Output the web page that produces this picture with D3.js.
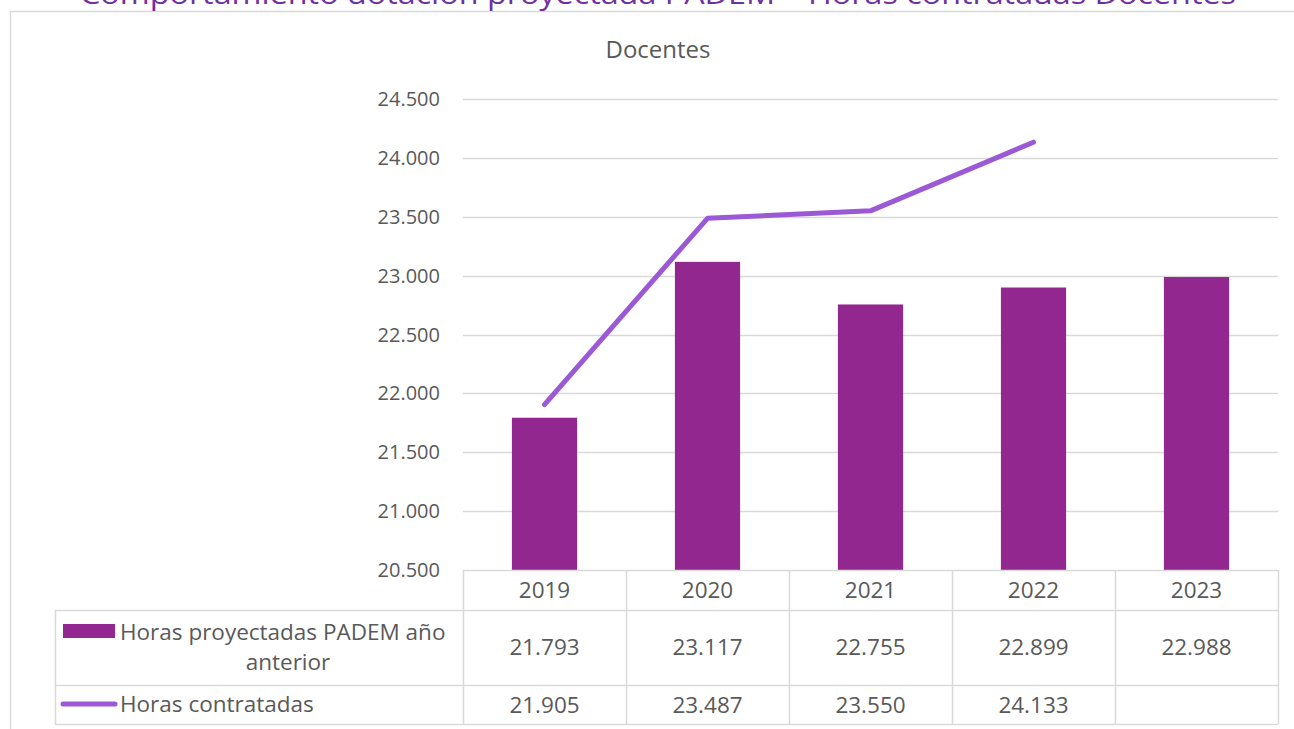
<!DOCTYPE html>
<html>
<head>
<meta charset="utf-8">
<script src="https://cdn.jsdelivr.net/npm/d3@7"></script>
<style>
  body { margin: 0; background: #fff; }
  svg { display: block; font-family: "Open Sans", sans-serif; }
</style>
</head>
<body>
<div id="chart"></div>
<script>
const years = ["2019", "2020", "2021", "2022", "2023"];
const horasProyectadas = [21793, 23117, 22755, 22899, 22988];
const horasContratadas = [21905, 23487, 23550, 24133, null];
const yTicks = [20500, 21000, 21500, 22000, 22500, 23000, 23500, 24000, 24500];
const seriesNames = ["Horas proyectadas PADEM año", "anterior", "Horas contratadas"];

const width = 1294, height = 729;
const barColor = "#92278f", lineColor = "#9b59d6", gridColor = "#d9d9d9", textColor = "#595959";
const tableFont = 22.5;

const svg = d3.select("#chart").append("svg")
  .attr("width", width)
  .attr("height", height);

// outer chart border
svg.append("path")
  .attr("d", "M10.5,729 V11.5 H1294")
  .attr("fill", "none")
  .attr("stroke", gridColor)
  .attr("stroke-width", 1.5);

// title (cut at the top, as in the original)
svg.append("text")
  .attr("x", 658)
  .attr("y", 4)
  .attr("text-anchor", "middle")
  .attr("font-size", 28)
  .attr("fill", "#7030a0")
  .attr("textLength", 1156)
  .attr("lengthAdjust", "spacingAndGlyphs")
  .text("Comportamiento dotación proyectada PADEM – Horas contratadas Docentes");

svg.append("text")
  .attr("x", 658)
  .attr("y", 50)
  .attr("dy", "0.35em")
  .attr("text-anchor", "middle")
  .attr("font-size", 24)
  .attr("fill", textColor)
  .text("Docentes");

const x = d3.scaleBand().domain(years).range([463, 1278]);
const y = d3.scaleLinear().domain([20500, 24500]).range([570, 99]);

// gridlines
svg.append("g")
  .selectAll("line")
  .data(yTicks.slice(1))
  .enter()
  .append("line")
  .attr("x1", 463)
  .attr("x2", 1278)
  .attr("y1", d => Math.round(y(d)) + 0.5)
  .attr("y2", d => Math.round(y(d)) + 0.5)
  .attr("stroke", gridColor)
  .attr("stroke-width", 1.5);

const fmtTick = d => {
  const s = String(d);
  return s.slice(0, s.length - 3) + "." + s.slice(-3);
};

// y axis labels
svg.append("g")
  .selectAll("text")
  .data(yTicks)
  .enter()
  .append("text")
  .attr("x", 440)
  .attr("y", d => y(d))
  .attr("dy", "0.35em")
  .attr("text-anchor", "end")
  .attr("font-size", 20)
  .attr("fill", textColor)
  .text(fmtTick);

// bars
const barW = x.bandwidth() * 0.4;
svg.append("g")
  .selectAll("rect")
  .data(years)
  .enter()
  .append("rect")
  .attr("x", d => x(d) + (x.bandwidth() - barW) / 2)
  .attr("width", barW)
  .attr("y", (d, i) => y(horasProyectadas[i]))
  .attr("height", (d, i) => y(20500) - y(horasProyectadas[i]))
  .attr("fill", barColor);

// line
const line = d3.line()
  .defined(d => d[1] != null)
  .x(d => x(d[0]) + x.bandwidth() / 2)
  .y(d => y(d[1]));

svg.append("path")
  .datum(years.map((d, i) => [d, horasContratadas[i]]))
  .attr("d", line)
  .attr("fill", "none")
  .attr("stroke", lineColor)
  .attr("stroke-width", 5)
  .attr("stroke-linecap", "round")
  .attr("stroke-linejoin", "round");

// data table grid
const table = svg.append("g")
  .attr("stroke", gridColor)
  .attr("stroke-width", 1.5);

table.append("line").attr("x1", 463).attr("x2", 1278).attr("y1", 570.5).attr("y2", 570.5);
[610, 685, 724].forEach(v => {
  table.append("line").attr("x1", 55).attr("x2", 1278).attr("y1", v + 0.5).attr("y2", v + 0.5);
});
years.forEach(d => {
  table.append("line").attr("x1", Math.round(x(d)) + 0.5).attr("x2", Math.round(x(d)) + 0.5)
    .attr("y1", 570).attr("y2", 724);
});
table.append("line").attr("x1", 1278.5).attr("x2", 1278.5).attr("y1", 570).attr("y2", 724);
table.append("line").attr("x1", 55.5).attr("x2", 55.5).attr("y1", 610).attr("y2", 724);

const cells = svg.append("g")
  .attr("font-size", tableFont)
  .attr("fill", textColor)
  .attr("text-anchor", "middle");

cells.selectAll(".yr")
  .data(years)
  .enter()
  .append("text")
  .attr("x", d => x(d) + x.bandwidth() / 2)
  .attr("y", 590)
  .attr("dy", "0.35em")
  .text(d => d);

cells.selectAll(".v1")
  .data(years)
  .enter()
  .append("text")
  .attr("x", d => x(d) + x.bandwidth() / 2)
  .attr("y", 647)
  .attr("dy", "0.35em")
  .text((d, i) => fmtTick(horasProyectadas[i]));

cells.selectAll(".v2")
  .data(years.filter((d, i) => horasContratadas[i] != null))
  .enter()
  .append("text")
  .attr("x", d => x(d) + x.bandwidth() / 2)
  .attr("y", 705)
  .attr("dy", "0.35em")
  .text((d, i) => fmtTick(horasContratadas[i]));

// legend keys
svg.append("rect")
  .attr("x", 63).attr("y", 624).attr("width", 52).attr("height", 14)
  .attr("fill", barColor);
svg.append("line")
  .attr("x1", 63).attr("x2", 115).attr("y1", 704).attr("y2", 704)
  .attr("stroke", lineColor).attr("stroke-width", 5).attr("stroke-linecap", "round");

svg.append("text")
  .attr("x", 120).attr("y", 632).attr("dy", "0.35em")
  .attr("font-size", tableFont).attr("fill", textColor)
  .text(seriesNames[0]);
svg.append("text")
  .attr("x", 288).attr("y", 662).attr("dy", "0.35em")
  .attr("text-anchor", "middle")
  .attr("font-size", tableFont).attr("fill", textColor)
  .text(seriesNames[1]);
svg.append("text")
  .attr("x", 120).attr("y", 704).attr("dy", "0.35em")
  .attr("font-size", tableFont).attr("fill", textColor)
  .text(seriesNames[2]);
</script>
</body>
</html>
